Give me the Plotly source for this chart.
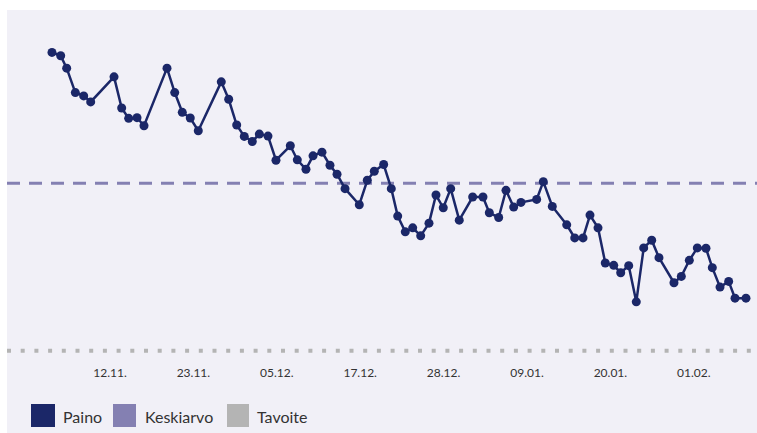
import pandas as pd
import plotly.graph_objects as go

# ---------------- data ----------------
start = pd.Timestamp("2023-11-12")
# measurement times as day offsets from 12.11.
day_offsets = [
    -7.69, -6.48, -5.65, -4.45, -3.29, -2.32, 0.92, 1.98, 2.95, 4.11,
    5.08, 8.27, 9.34, 10.39, 11.50, 12.61, 15.80, 16.83, 17.94, 18.99,
    20.10, 21.08, 22.28, 23.39, 25.38, 26.35, 27.55, 28.53, 29.77, 30.88,
    31.86, 32.97, 34.95, 36.06, 37.03, 38.33, 39.39, 40.28, 41.33, 42.36,
    43.47, 44.62, 45.59, 46.60, 47.63, 48.82, 50.68, 52.11, 52.99, 54.29,
    55.30, 56.37, 57.38, 59.56, 60.48, 61.73, 63.73, 64.84, 65.99, 66.96,
    68.07, 69.08, 70.25, 71.22, 72.33, 73.38, 74.41, 75.52, 76.53, 78.61,
    79.63, 80.74, 81.85, 83.05, 83.93, 85.00, 86.20, 87.08, 88.60,
]
paino = [
    87.91, 87.81, 87.44, 86.71, 86.61, 86.43, 87.18, 86.25, 85.94, 85.96,
    85.72, 87.44, 86.71, 86.12, 85.95, 85.57, 87.03, 86.51, 85.74, 85.40,
    85.25, 85.47, 85.41, 84.69, 85.12, 84.70, 84.42, 84.82, 84.93, 84.54,
    84.27, 83.84, 83.36, 84.09, 84.36, 84.56, 83.84, 83.02, 82.55, 82.67,
    82.43, 82.81, 83.65, 83.27, 83.84, 82.90, 83.59, 83.59, 83.12, 82.98,
    83.79, 83.29, 83.43, 83.52, 84.05, 83.31, 82.76, 82.37, 82.37, 83.05,
    82.67, 81.62, 81.55, 81.33, 81.54, 80.46, 82.07, 82.30, 81.78, 81.03,
    81.22, 81.70, 82.07, 82.06, 81.48, 80.90, 81.07, 80.57, 80.57,
]
keskiarvo = 84.0
tavoite = 79.0
series_names = ["Paino", "Keskiarvo", "Tavoite"]

# tick marks: evenly spaced in time, labelled by date
tick_first_offset = 0.36
tick_step_days = 11.5714
n_ticks = 8

# ---------------- styling ----------------
BG = "#f1f0f7"
C_PAINO = "#1b2768"
C_AVG = "#8480b2"
C_GOAL = "#b4b4b4"
TXT = "#333333"
FONT = "Lato"

# figure geometry (page body margin removed in post_script)
W, H = 757, 433
M_T, M_B, M_L, M_R = 10, 78, 7, 0
PLOT_W = W - M_L - M_R
PLOT_H = H - M_T - M_B


def px_x(px):
    return (px - M_L) / PLOT_W


def px_y(py):
    return (M_T + PLOT_H - py) / PLOT_H


x = [start + pd.Timedelta(days=d) for d in day_offsets]
x_range = [start + pd.Timedelta(days=-13.93), start + pd.Timedelta(days=90.13)]
tickvals = [start + pd.Timedelta(days=tick_first_offset + k * tick_step_days) for k in range(n_ticks)]

fig = go.Figure()
fig.add_trace(go.Scatter(
    x=x_range, y=[tavoite, tavoite], mode="lines", name=series_names[2],
    line=dict(color=C_GOAL, width=4, dash="4px,9.7px"), hoverinfo="skip",
))
fig.add_trace(go.Scatter(
    x=x_range, y=[keskiarvo, keskiarvo], mode="lines", name=series_names[1],
    line=dict(color=C_AVG, width=3, dash="13px,9px"), hoverinfo="skip",
))
fig.add_trace(go.Scatter(
    x=x, y=paino, mode="lines+markers", name=series_names[0],
    line=dict(color=C_PAINO, width=2.5),
    marker=dict(color=C_PAINO, size=9),
))

shapes = [
    # white page border strips (top and left)
    dict(type="rect", xref="paper", yref="paper", x0=px_x(0), x1=px_x(757),
         y0=1, y1=px_y(0), fillcolor="white", line=dict(width=0), layer="below"),
    dict(type="rect", xref="paper", yref="paper", x0=px_x(0), x1=0,
         y0=px_y(433), y1=px_y(0), fillcolor="white", line=dict(width=0), layer="below"),
]
annotations = []
legend_items = [
    (series_names[0], C_PAINO, 31, 55, 62),
    (series_names[1], C_AVG, 113, 136, 144),
    (series_names[2], C_GOAL, 227, 249, 256),
]
for name, col, sx0, sx1, tx in legend_items:
    shapes.append(dict(type="rect", xref="paper", yref="paper",
                       x0=px_x(sx0), x1=px_x(sx1), y0=px_y(427), y1=px_y(404),
                       fillcolor=col, line=dict(width=0)))
    annotations.append(dict(xref="paper", yref="paper", x=px_x(tx - 1.5), y=px_y(416),
                            xanchor="left", yanchor="middle", showarrow=False,
                            text=name, font=dict(family=FONT, size=16, color=TXT)))

fig.update_layout(
    width=W, height=H,
    margin=dict(l=M_L, r=M_R, t=M_T, b=M_B, pad=0),
    paper_bgcolor=BG, plot_bgcolor=BG,
    showlegend=False,
    font=dict(family=FONT, size=12, color=TXT),
    shapes=shapes, annotations=annotations,
    xaxis=dict(
        type="date", range=x_range, tickvals=tickvals, tickformat="%d.%m.",
        showgrid=False, zeroline=False, showline=False,
        ticks="outside", ticklen=7, tickcolor="rgba(0,0,0,0)",
        tickfont=dict(family=FONT, size=12, color=TXT),
    ),
    yaxis=dict(
        range=[78.872, 89.176], showgrid=False, zeroline=False, showline=False,
        showticklabels=False, ticks="",
    ),
)

fig.write_html(
    "out.html",
    config={"displayModeBar": False},
    post_script="document.body.style.margin='0';"
                "document.documentElement.style.overflow='hidden';"
                "document.body.style.overflow='hidden';",
)
